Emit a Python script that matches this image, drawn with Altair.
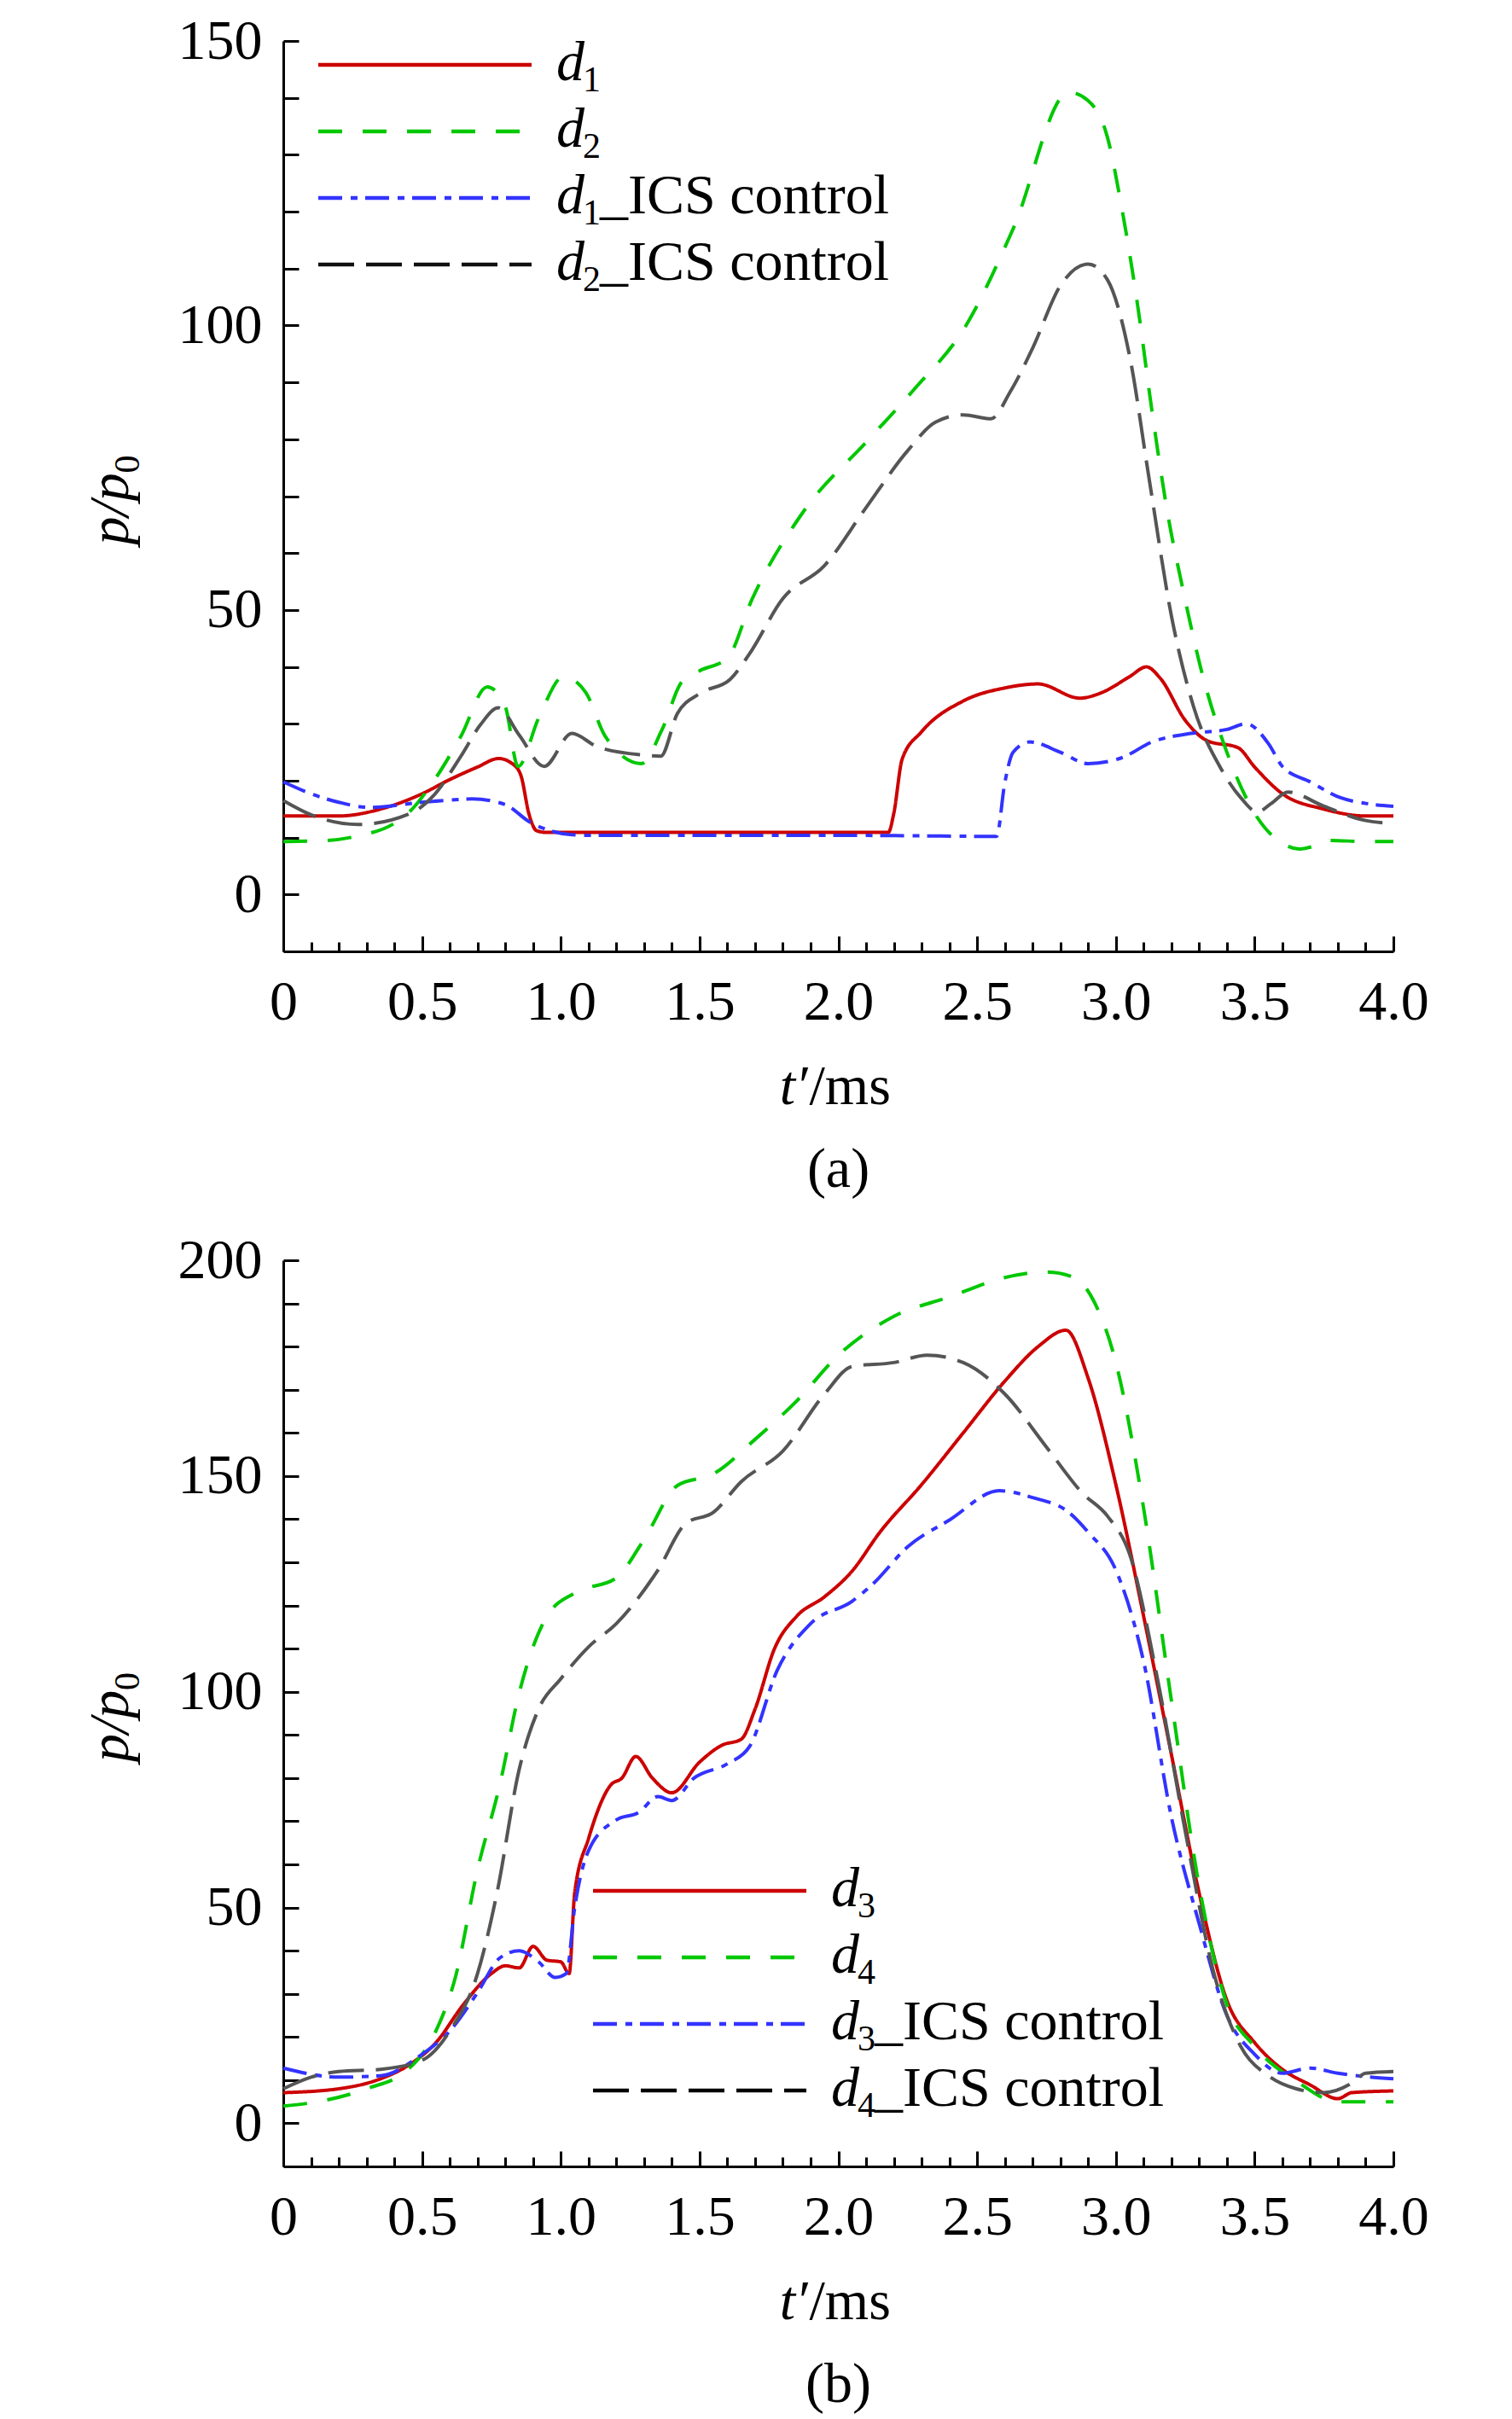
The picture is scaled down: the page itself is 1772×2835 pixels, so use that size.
import altair as alt
import pandas as pd

FONT = "Liberation Serif"

# ---------------- Panel (a) data ----------------
a_d1_t = [0, 0.2, 0.35, 0.5, 0.6, 0.7, 0.776, 0.83, 0.857, 0.885, 0.913, 0.95, 1.5, 2.0, 2.18, 2.2, 2.23, 2.3,
          2.45, 2.6, 2.72, 2.87, 2.95, 3.05, 3.11, 3.16, 3.25, 3.33, 3.44, 3.5, 3.6, 3.75, 3.9, 4.0]
a_d1_p = [13.8, 13.8, 15, 17.7, 20.2, 22.4, 23.9, 22.8, 20.8, 14.2, 11.2, 10.9, 10.9, 10.9, 10.9, 14.3, 23.8, 28.6,
          34, 36.3, 37, 34.5, 35.5, 38.3, 40, 38, 30.6, 27, 25.8, 22.4, 17.7, 15, 13.8, 13.8]

a_d2_t = [0, 0.16, 0.27, 0.4, 0.45, 0.54, 0.64, 0.735, 0.8, 0.846, 0.92, 1.01, 1.09, 1.16, 1.29, 1.365, 1.435,
          1.5, 1.6, 1.69, 1.87, 2.11, 2.27, 2.46, 2.63, 2.83, 2.9, 2.97, 3.02, 3.08, 3.13, 3.19, 3.24, 3.31,
          3.4, 3.51, 3.6, 3.66, 3.72, 3.77, 3.9, 4.0]
a_d2_p = [9.3, 9.5, 10.3, 12.5, 14.3, 19.8, 27.8, 36.5, 33, 22.5, 31, 38.3, 35.5, 27.8, 23, 29, 37.3,
          39.3, 41.5, 52, 67, 80, 88.6, 100, 117, 141, 139.5, 133, 121, 103, 85, 66, 54, 39,
          25, 13.5, 9, 8, 8.6, 9.5, 9.3, 9.3]

a_d1c_t = [0, 0.1, 0.2, 0.31, 0.5, 0.6, 0.68, 0.8, 0.886, 1.04, 1.1, 1.5, 2.0, 2.3, 2.57, 2.6, 2.63, 2.69,
           2.8, 2.9, 3.02, 3.13, 3.27, 3.4, 3.47, 3.55, 3.6, 3.7, 3.81, 3.9, 4.0]
a_d1c_p = [19.8, 17.7, 16.2, 15.3, 16.2, 16.6, 16.8, 15.8, 12.8, 10.5, 10.4, 10.4, 10.4, 10.3, 10.2, 19.7, 25, 26.8,
           25, 23, 24, 26.8, 28.3, 29, 30, 26.5, 22.5, 19.8, 17, 16, 15.5]

a_d2c_t = [0, 0.1, 0.27, 0.46, 0.54, 0.64, 0.71, 0.775, 0.85, 0.94, 1.04, 1.13, 1.3, 1.36, 1.42, 1.5, 1.61,
           1.68, 1.8, 1.95, 2.1, 2.25, 2.35, 2.45, 2.55, 2.62, 2.7, 2.8, 2.9, 2.97, 3.05, 3.12, 3.2, 3.28,
           3.38, 3.45, 3.51, 3.56, 3.62, 3.75, 3.9, 4.0]
a_d2c_p = [16.5, 14, 12.3, 14.3, 17.3, 24.3, 29.8, 32.8, 28, 22.5, 28.3, 26, 24.5, 24.3, 31.8, 35.3, 37.8,
           42.3, 52, 57.8, 68, 78, 83, 84.3, 83.6, 88.4, 96, 107, 110.8, 108, 94.5, 73, 49, 33,
           22, 17, 14.5, 16, 18, 15.5, 13, 12.5]

# ---------------- Panel (b) data ----------------
b_d3_t = [0, 0.2, 0.35, 0.45, 0.55, 0.65, 0.75, 0.8, 0.85, 0.9, 0.95, 1.0, 1.03, 1.05, 1.1, 1.18, 1.22, 1.27,
          1.33, 1.4, 1.5, 1.58, 1.65, 1.7, 1.77, 1.85, 1.95, 2.05, 2.15, 2.3, 2.45, 2.6, 2.72, 2.82, 2.9,
          3.0, 3.1, 3.2, 3.3, 3.4, 3.5, 3.6, 3.7, 3.8, 3.85, 4.0]
b_d3_p = [7.1, 8, 10.3, 13.4, 18.7, 27.6, 34.7, 36.5, 36, 41, 37.8, 37.4, 34.7, 53.4, 66, 78.4, 80, 85,
          80, 76.6, 83.7, 87.6, 89, 96, 110, 117.5, 122, 128, 137, 148, 160, 172, 180, 183.8, 172.7,
          148, 117.5, 85.5, 53.4, 28.5, 18.7, 12.5, 8.9, 5.7, 7.1, 7.5]

b_d4_t = [0, 0.15, 0.3, 0.45, 0.55, 0.62, 0.7, 0.78, 0.85, 0.95, 1.05, 1.2, 1.3, 1.42, 1.55, 1.7, 1.85, 2.0,
          2.2, 2.4, 2.6, 2.75, 2.85, 2.92, 3.0, 3.1, 3.2, 3.3, 3.4, 3.5, 3.65, 3.8, 4.0]
b_d4_p = [4, 5.3, 8, 12.5, 21.4, 33.8, 58.8, 78.4, 99.7, 117.5, 122.9, 126.4, 135.3, 147.8, 150.5, 158.5, 167.4, 178,
          187, 191.5, 196, 197.3, 196, 190.6, 176.3, 142.5, 98, 55, 27.6, 17.8, 9.8, 5, 5]

b_d3c_t = [0, 0.2, 0.35, 0.5, 0.6, 0.7, 0.78, 0.85, 0.92, 0.98, 1.02, 1.05, 1.1, 1.2, 1.28, 1.35, 1.4, 1.48,
           1.6, 1.68, 1.78, 1.9, 2.05, 2.12, 2.25, 2.4, 2.58, 2.7, 2.83, 2.9, 3.0, 3.1, 3.2, 3.3, 3.4,
           3.5, 3.6, 3.7, 3.8, 4.0]
b_d3c_p = [12.8, 10.7, 11, 16, 21.4, 30.3, 38.3, 40, 37.4, 33.8, 34.7, 50, 63.2, 70.3, 72, 75.7, 74.8, 80,
           83.3, 87.3, 105, 115.8, 121, 124.7, 133.6, 139.8, 146.6, 145, 141.6, 137, 128.2, 107, 71, 46.3, 25,
           16, 11.6, 12.8, 11.6, 10.3]

b_d4c_t = [0, 0.1, 0.2, 0.35, 0.5, 0.6, 0.7, 0.77, 0.85, 0.92, 1.0, 1.1, 1.2, 1.35, 1.45, 1.55, 1.65, 1.8,
           1.95, 2.05, 2.2, 2.32, 2.45, 2.6, 2.75, 2.88, 2.97, 3.05, 3.15, 3.25, 3.35, 3.45, 3.55, 3.65,
           3.75, 3.85, 3.9, 4.0]
b_d4c_p = [8, 10.7, 12, 12.5, 14.6, 21.4, 34.7, 53.4, 82, 96, 103, 110.4, 115.8, 128.2, 139, 141.6, 148.7, 155.8,
           169, 175.4, 176.3, 178, 176.3, 169, 156.7, 146, 140.7, 131.8, 103, 67.7, 35.6, 17.8, 11, 8,
           7.1, 9.3, 11.6, 12]

a_names = ["d1", "d2", "d1_ICS control", "d2_ICS control"]
b_names = ["d3", "d4", "d3_ICS control", "d4_ICS control"]
a_subs = ["1", "2", "1", "2"]
b_subs = ["3", "4", "3", "4"]
a_colors = ["#cc0000", "#00c800", "#3333ff", "#555555"]
b_colors = ["#cc0000", "#00c800", "#3333ff", "#000000"]
leg_a_colors = ["#cc0000", "#00c800", "#3333ff", "#111111"]
dashes = [[1, 0], [28, 24], [28, 10, 8, 9], [42, 14]]
x_major = [0, 0.5, 1.0, 1.5, 2.0, 2.5, 3.0, 3.5, 4.0]
x_minor = [i / 10 for i in range(41)]

W = 1301
one = pd.DataFrame({"k": [0]})


def long_df(names, ts_list, ps_list):
    rows = []
    for name, ts, ps in zip(names, ts_list, ps_list):
        for t, p in zip(ts, ps):
            rows.append({"t": t, "p": p, "series": name})
    return pd.DataFrame(rows)


def txt(s, x, y, size=66, style="normal", align="left", angle=0):
    return alt.Chart(one).mark_text(
        text=s, font=FONT, fontSize=size, fontStyle=style, align=align,
        baseline="alphabetic", angle=angle, color="black"
    ).encode(x=alt.value(x), y=alt.value(y))


def seg(x1, x2, y, color, dash):
    kw = dict(color=color, strokeWidth=4.5, strokeCap="butt")
    if dash != [1, 0]:
        kw["strokeDash"] = dash
    return alt.Chart(one).mark_rule(**kw).encode(
        x=alt.value(x1), x2=alt.value(x2), y=alt.value(y))


def panel(df, names, colors, leg_colors, subs, ymax, ylabels, H, leg_x, leg_y0, cap):
    xs = alt.Scale(domain=[0, 4], nice=False, zero=False)
    ys = alt.Scale(domain=[-10, ymax], nice=False, zero=False)
    lines = alt.Chart(df).mark_line(strokeWidth=4, interpolate="monotone", strokeCap="butt").encode(
        x=alt.X("t:Q", scale=xs, axis=alt.Axis(
            orient="bottom", values=x_major, ticks=False, grid=False, title=None,
            domainWidth=3, domainColor="black", labelFont=FONT, labelFontSize=66,
            labelColor="black", labelPadding=27, labelFlush=False, labelOverlap=False,
            labelExpr="datum.value == 0 ? '0' : format(datum.value, '.1f')")),
        y=alt.Y("p:Q", scale=ys, axis=alt.Axis(
            orient="left", values=ylabels, ticks=False, grid=False, title=None,
            domainWidth=3, domainColor="black", labelFont=FONT, labelFontSize=66,
            labelColor="black", labelPadding=25, labelFlush=False, labelOverlap=False,
            format="d")),
        color=alt.Color("series:N", scale=alt.Scale(domain=names, range=colors), legend=None),
        strokeDash=alt.StrokeDash("series:N", scale=alt.Scale(domain=names, range=dashes), legend=None),
    )
    tdf = pd.DataFrame({"t": [0, 4], "p": [0, 0]})
    ticks = alt.Chart(tdf).mark_point(opacity=0).encode(
        x=alt.X("t:Q", scale=xs, axis=alt.Axis(
            orient="top", offset=-H, values=x_minor, labels=False, domain=False, grid=False,
            title=None, tickColor="black", tickWidth=3,
            tickSize={"condition": {"test": "abs(datum.value*2 - round(datum.value*2)) < 0.001", "value": 18},
                      "value": 11})),
        y=alt.Y("p:Q", scale=ys, axis=alt.Axis(
            orient="right", offset=-W, values=list(range(0, ymax + 1, 10)), labels=False,
            domain=False, grid=False, title=None, tickColor="black", tickWidth=3, tickSize=18)),
    )
    layers = [lines, ticks]
    for i, name in enumerate(names):
        ry = leg_y0 + i * 78
        layers.append(seg(leg_x, leg_x + 250, ry, leg_colors[i], dashes[i]))
        tx = leg_x + 279
        layers.append(txt("d", tx, ry + 18, style="italic"))
        layers.append(txt(subs[i], tx + 31, ry + 31, size=42))
        if "_" in name:
            layers.append(txt("_ICS control", tx + 51, ry + 18))
    # y title p/p0
    layers.append(txt("p/p", -182, H / 2 + 57, style="italic", angle=270))
    layers.append(txt("0", -169, H / 2 - 27, size=42, angle=270))
    # x title t'/ms
    layers.append(txt("t\u2032", W / 2 - 36, H + 179, style="italic", align="right"))
    layers.append(txt("/ms", W / 2 - 34, H + 179))
    # caption
    layers.append(txt(cap, W / 2, H + 276, align="center"))
    return alt.layer(*layers).resolve_axis(x="independent", y="independent").properties(width=W, height=H)


df_a = long_df(a_names, [a_d1_t, a_d2_t, a_d1c_t, a_d2c_t], [a_d1_p, a_d2_p, a_d1c_p, a_d2c_p])
df_b = long_df(b_names, [b_d3_t, b_d4_t, b_d3c_t, b_d4c_t], [b_d3_p, b_d4_p, b_d3c_p, b_d4c_p])

pa = panel(df_a, a_names, a_colors, leg_a_colors, a_subs, 150, [0, 50, 100, 150], 1067, 41, 28, "(a)")
pb = panel(df_b, b_names, b_colors, b_colors, b_subs, 200, [0, 50, 100, 150, 200], 1062, 363, 739, "(b)")

chart = alt.vconcat(pa, pb, spacing=40).properties(
    padding={"left": 89, "top": 7, "right": 10, "bottom": 10}
).configure(
    font=FONT,
    view=alt.ViewConfig(stroke="transparent", strokeWidth=0),
)

chart.save("out.html", embed_options={"renderer": "svg", "actions": False})
